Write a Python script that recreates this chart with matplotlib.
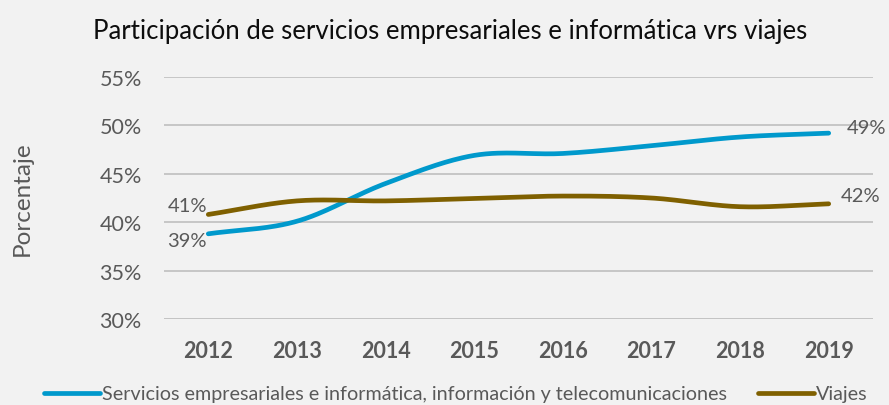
import matplotlib
matplotlib.use("Agg")
import matplotlib.pyplot as plt
import numpy as np
from matplotlib.ticker import FuncFormatter

years = ["2012", "2013", "2014", "2015", "2016", "2017", "2018", "2019"]
servicios = [38.8, 40.1, 44.0, 46.9, 47.1, 47.9, 48.8, 49.2]
viajes = [40.8, 42.2, 42.2, 42.45, 42.7, 42.5, 41.6, 41.9]
serie_names = ["Servicios empresariales e informática, información y telecomunicaciones", "Viajes"]
title = "Participación de servicios empresariales e informática vrs viajes"

plt.rcParams['font.family'] = ['Lato', 'DejaVu Sans']

BG = "#f2f2f2"
TXT = "#595959"
C_BLUE = "#0099cc"
C_BROWN = "#7f6000"


def smooth(x, y, n=30):
    # Catmull-Rom style smoothing (like Excel smoothed lines)
    x = np.asarray(x, float); y = np.asarray(y, float)
    px = np.concatenate([[2*x[0]-x[1]], x, [2*x[-1]-x[-2]]])
    py = np.concatenate([[2*y[0]-y[1]], y, [2*y[-1]-y[-2]]])
    xs, ys = [], []
    for i in range(1, len(px)-2):
        t = np.linspace(0, 1, n, endpoint=False)
        for P, out in ((px, xs), (py, ys)):
            p0, p1, p2, p3 = P[i-1], P[i], P[i+1], P[i+2]
            c1 = p1 + (p2 - p0) / 6
            c2 = p2 - (p3 - p1) / 6
            out.extend((1-t)**3*p1 + 3*(1-t)**2*t*c1 + 3*(1-t)*t**2*c2 + t**3*p2)
    xs.append(x[-1]); ys.append(y[-1])
    return np.array(xs), np.array(ys)


fig = plt.figure(figsize=(8.89, 4.06), dpi=100, facecolor=BG)
ax = fig.add_axes([164/889, 1-320/406, (873-164)/889, (320-78)/406], facecolor=BG)

xi = np.arange(len(years))
for vals, col, name in ((servicios, C_BLUE, serie_names[0]), (viajes, C_BROWN, serie_names[1])):
    sx, sy = smooth(xi, vals)
    ax.plot(sx, sy, color=col, lw=3.4, solid_capstyle='round', label=name, zorder=3)

ax.set_xlim(-0.5, len(years)-0.5)
ax.set_ylim(30, 55)
ax.set_yticks([30, 35, 40, 45, 50, 55])
ax.yaxis.set_major_formatter(FuncFormatter(lambda v, p: f"{v:.0f}%"))
ax.set_xticks(xi)
ax.set_xticklabels(years, fontweight='bold')
ax.tick_params(axis='both', length=0, colors=TXT, labelsize=15.5)
ax.tick_params(axis='x', pad=15)
ax.tick_params(axis='y', pad=16)
ax.grid(axis='y', color="#bfbfbf", lw=1.2, zorder=0)
for s in ax.spines.values():
    s.set_visible(False)
ax.axhline(30, color="#d9d9d9", lw=1.2, zorder=1)

ax.set_ylabel("Porcentaje", color=TXT, fontsize=17.5, labelpad=48)

# data labels
fs = 14.5
ax.annotate(f"{round(viajes[0]):.0f}%", (0, viajes[0]), xytext=(-1, 0), textcoords='offset points',
            ha='right', va='bottom', color=TXT, fontsize=fs)
ax.annotate(f"{round(servicios[0]):.0f}%", (0, servicios[0]), xytext=(-1, -5), textcoords='offset points',
            ha='right', va='center', color=TXT, fontsize=fs)
ax.annotate(f"{round(servicios[-1]):.0f}%", (7, servicios[-1]), xytext=(13, 4), textcoords='offset points',
            ha='left', va='center', color=TXT, fontsize=fs)
ax.annotate(f"{round(viajes[-1]):.0f}%", (7, viajes[-1]), xytext=(9, 0), textcoords='offset points',
            ha='left', va='bottom', color=TXT, fontsize=fs)

fig.text(450/889, 1-31/406, title, ha='center', va='center', fontsize=18.5, color="#0d0d0d")

leg = fig.legend(loc='center', bbox_to_anchor=(456/889, 1-395/406), ncol=2, frameon=False,
                 fontsize=14.2, handlelength=2.8, handletextpad=0.12, columnspacing=1.6, labelcolor=TXT)

fig.savefig("out.png", dpi=100, facecolor=BG)
